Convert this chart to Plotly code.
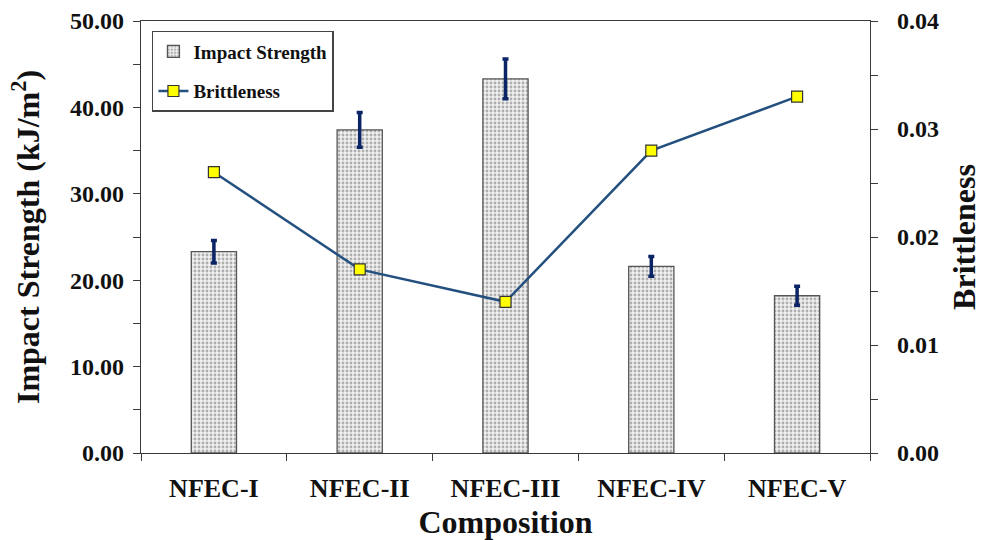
import plotly.graph_objects as go

# Composition labels and measured properties
compositions = ["NFEC-I", "NFEC-II", "NFEC-III", "NFEC-IV", "NFEC-V"]
impact_strength = [23.3, 37.4, 43.3, 21.6, 18.2]        # kJ/m^2
impact_error = [1.3, 2.0, 2.3, 1.15, 1.1]
brittleness = [0.026, 0.017, 0.014, 0.028, 0.033]

left_ticks = [0, 10, 20, 30, 40, 50]
right_ticks = [0.0, 0.01, 0.02, 0.03, 0.04]

FONT = "Liberation Serif"
AXIS_COLOR = "#3a3a3a"

fig = go.Figure()

fig.add_trace(go.Bar(
    x=compositions,
    y=impact_strength,
    name="<b>Impact Strength</b>",
    legendgroup="impact",
    width=0.31,
    marker=dict(
        color="#ffffff",
        line=dict(color="#555555", width=1.3),
        pattern=dict(shape=".", fgcolor="#6e6e6e", bgcolor="#f0f0f0", size=4, solidity=0.4),
    ),
    error_y=dict(type="data", array=impact_error, visible=True,
                 color="#0b2466", thickness=3.5, width=3),
))

fig.add_trace(go.Scatter(
    x=compositions,
    y=brittleness,
    name="<b>Brittleness</b>",
    legendgroup="brittle",
    yaxis="y2",
    mode="lines+markers",
    line=dict(color="#24507f", width=2.5),
    marker=dict(symbol="square", size=11, color="#ffff00",
                line=dict(color="#333333", width=1.2)),
))

fig.update_layout(
    width=989, height=540,
    margin=dict(l=141, r=119, t=21, b=87),
    paper_bgcolor="white",
    plot_bgcolor="white",
    font=dict(family=FONT, color="#111111"),
    showlegend=True,
    legend=dict(
        x=0.015, y=0.977, xanchor="left", yanchor="top",
        bordercolor="#444444", borderwidth=1.5, bgcolor="white",
        font=dict(family=FONT, size=19, color="#111111"),
        traceorder="grouped", tracegroupgap=12, itemwidth=30,
    ),
    xaxis=dict(
        title=dict(text="<b>Composition</b>", font=dict(family=FONT, size=32), standoff=8),
        tickfont=dict(family=FONT, size=26),
        ticklabelstandoff=12,
        tickson="boundaries",
        ticks="outside", ticklen=7, tickcolor=AXIS_COLOR,
        showline=True, linecolor=AXIS_COLOR, linewidth=1.3,
        mirror=True, showgrid=False, automargin=False,
        tickprefix="<b>", ticksuffix="</b>",
    ),
    yaxis=dict(
        title=dict(text="<b>Impact Strength (kJ/m<sup>2</sup>)</b>", font=dict(family=FONT, size=32), standoff=20),
        range=[0, 50],
        tickvals=left_ticks,
        ticktext=[f"<b>{v:.2f}</b>" for v in left_ticks],
        tickfont=dict(family=FONT, size=24),
        ticklabelstandoff=4,
        ticks="outside", ticklen=7, tickcolor=AXIS_COLOR,
        minor=dict(dtick=5, ticks="outside", ticklen=7, tickcolor=AXIS_COLOR),
        showline=True, linecolor=AXIS_COLOR, linewidth=1.3,
        showgrid=False, zeroline=False, automargin=False,
    ),
    yaxis2=dict(
        title=dict(text="<b>Brittleness</b>", font=dict(family=FONT, size=32), standoff=14),
        overlaying="y", side="right",
        range=[0, 0.04],
        tickvals=right_ticks,
        ticktext=[f"<b>{v:.2f}</b>" for v in right_ticks],
        tickfont=dict(family=FONT, size=24),
        ticklabelstandoff=14,
        ticks="outside", ticklen=7, tickcolor=AXIS_COLOR,
        minor=dict(dtick=0.005, ticks="outside", ticklen=7, tickcolor=AXIS_COLOR),
        showline=True, linecolor=AXIS_COLOR, linewidth=1.3,
        showgrid=False, zeroline=False, automargin=False,
    ),
)

fig.write_html("out.html")
